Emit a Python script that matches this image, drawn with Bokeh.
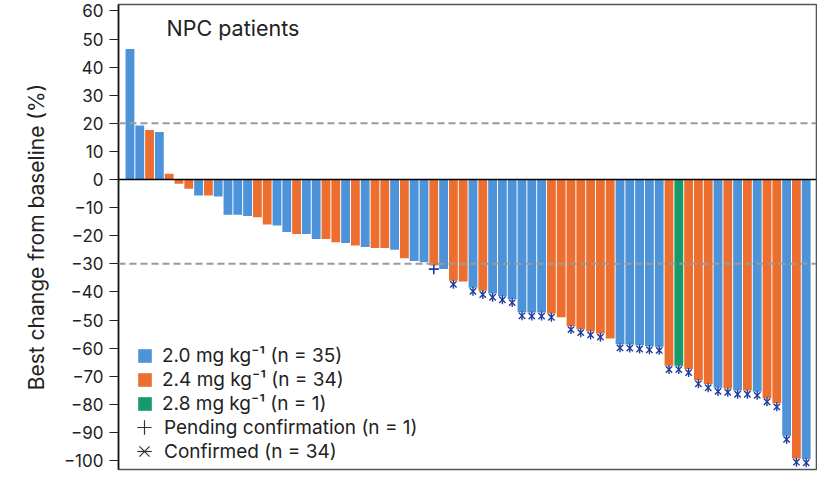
from bokeh.plotting import figure
from bokeh.models import ColumnDataSource, Range1d, Span, Label, Legend, LegendItem, FixedTicker
from bokeh.embed import file_html
from bokeh.resources import INLINE

# ---------------- data ----------------
dose = ["B", "B", "O", "B", "O", "O", "O", "B", "O", "B",
        "B", "B", "B", "O", "O", "B", "B", "O", "B", "B",
        "O", "O", "B", "O", "B", "O", "O", "B", "O", "B",
        "B", "O", "B", "O", "O", "B", "O", "B", "B", "B",
        "B", "B", "B", "O", "O", "O", "O", "O", "O", "O",
        "B", "B", "B", "B", "B", "O", "G", "O", "O", "O",
        "B", "O", "B", "O", "B", "O", "O", "B", "O", "B"]
change = [46.5, 19.2, 17.6, 16.9, 2.1, -1.5, -3.3, -5.7, -5.7, -6.0,
          -12.5, -12.5, -13.0, -13.4, -16.0, -16.4, -18.7, -19.4, -19.4, -21.2,
          -21.2, -22.3, -22.6, -23.5, -24.0, -24.4, -24.4, -25.0, -28.0, -29.0,
          -29.4, -30.6, -31.8, -36.0, -36.3, -38.5, -39.6, -40.6, -41.5, -42.5,
          -47.2, -47.3, -47.3, -47.7, -49.0, -52.1, -53.2, -54.0, -54.8, -56.6,
          -58.6, -58.7, -59.0, -59.3, -59.5, -66.3, -66.3, -67.4, -71.4, -72.8,
          -74.1, -74.4, -75.1, -75.1, -75.5, -77.8, -79.6, -91.2, -99.3, -99.5]
# response status: "C" confirmed, "P" pending confirmation, "" none
status = ["", "", "", "", "", "", "", "", "", "",
          "", "", "", "", "", "", "", "", "", "",
          "", "", "", "", "", "", "", "", "", "",
          "", "P", "", "C", "", "C", "C", "C", "C", "C",
          "C", "C", "C", "C", "", "C", "C", "C", "C", "",
          "C", "C", "C", "C", "C", "C", "C", "C", "C", "C",
          "C", "C", "C", "C", "C", "C", "C", "C", "C", "C"]
dose_labels = {"B": "2.0 mg kg\u207b\u00b9 (n = 35)",
               "O": "2.4 mg kg\u207b\u00b9 (n = 34)",
               "G": "2.8 mg kg\u207b\u00b9 (n = 1)"}
pending_label = "Pending confirmation (n = 1)"
confirmed_label = "Confirmed (n = 34)"
thresholds = [20, -30]
y_ticks = [60, 50, 40, 30, 20, 10, 0, -10, -20, -30, -40, -50, -60, -70, -80, -90, -100]
y_tick_labels = [str(t) if t >= 0 else "\u2212" + str(-t) for t in y_ticks]
title_text = "NPC patients"
y_title = "Best change from baseline (%)"

colors = {"B": "#4d93d9", "O": "#ec6f30", "G": "#16996b"}
marker_color = "#1f3d9c"
FONT = "Inter"
NAN = float("nan")

# ---------------- figure ----------------
n = len(change)
xs = list(range(1, n + 1))

p = figure(width=817, height=471, output_backend="svg", toolbar_location=None,
           x_range=Range1d(-0.17, n + 1.05), y_range=Range1d(-103.2, 62.3),
           min_border_left=118, min_border_right=1, min_border_top=4, min_border_bottom=2)
p.xaxis.visible = False
p.xgrid.visible = False
p.ygrid.visible = False
p.outline_line_color = "#555555"
p.outline_line_width = 1.6
p.background_fill_color = "white"
p.border_fill_color = "white"

bar_items = []
for key in ["B", "O", "G"]:
    idx = [i for i in range(n) if dose[i] == key]
    src = ColumnDataSource(dict(x=[xs[i] for i in idx], top=[change[i] for i in idx]))
    r = p.vbar(x="x", top="top", bottom=0, width=0.9, source=src,
               fill_color=colors[key], line_color=None)
    bar_items.append(LegendItem(label=dose_labels[key], renderers=[r]))

for t in thresholds:
    p.add_layout(Span(location=t, dimension="width", line_color="#9a9a9a",
                      line_width=2, line_dash="7 4"))
p.add_layout(Span(location=0, dimension="width", line_color="black", line_width=1.5))

off = 1.3
ci = [i for i in range(n) if status[i] == "C"]
pi = [i for i in range(n) if status[i] == "P"]
csrc = ColumnDataSource(dict(x=[xs[i] for i in ci], y=[change[i] - off for i in ci]))
psrc = ColumnDataSource(dict(x=[xs[i] for i in pi], y=[change[i] - off for i in pi]))
p.scatter("x", "y", source=csrc, marker="x", size=9, line_color=marker_color, line_width=1.4)
p.scatter("x", "y", source=csrc, marker="dash", size=9, angle=1.5708,
          line_color=marker_color, line_width=1.4)
p.scatter("x", "y", source=psrc, marker="cross", size=10, line_color=marker_color, line_width=1.6)

# legend-only glyphs (black symbols, no visible data)
dummy = ColumnDataSource(dict(x=[NAN], y=[NAN]))
rp = p.scatter("x", "y", source=dummy, marker="cross", line_color="#333333", line_width=1.2)
rc1 = p.scatter("x", "y", source=dummy, marker="x", line_color="#333333", line_width=1.2)
rc2 = p.scatter("x", "y", source=dummy, marker="dash", line_color="#333333", line_width=1.2)

common = dict(orientation="vertical", padding=0, margin=0, border_line_color=None,
              background_fill_alpha=0, label_text_font=FONT, label_text_font_size="19px",
              label_text_color="#222222")
legend1 = Legend(items=bar_items, location=(18, 54), glyph_width=17, glyph_height=17,
                 label_height=24, spacing=0, label_standoff=9, **common)
legend2 = Legend(items=[LegendItem(label=pending_label, renderers=[rp])], location=(8, 24),
                 glyph_width=36, glyph_height=36, label_standoff=2, **common)
legend3 = Legend(items=[LegendItem(label=confirmed_label, renderers=[rc1, rc2])], location=(8, 0),
                 glyph_width=36, glyph_height=36, label_standoff=2, **common)
p.add_layout(legend1)
p.add_layout(legend2)
p.add_layout(legend3)

p.add_layout(Label(x=4.73, y=53.8, text=title_text, text_font=FONT, text_font_size="21.5px",
                   text_color="#222222", text_baseline="alphabetic"))

ax = p.yaxis[0]
ax.ticker = FixedTicker(ticks=y_ticks)
ax.major_label_overrides = {t: l for t, l in zip(y_ticks, y_tick_labels)}
ax.minor_tick_line_color = None
ax.major_tick_out = 9
ax.major_tick_in = 0
ax.major_tick_line_width = 1.2
ax.major_tick_line_color = "#222222"
ax.axis_line_color = "#111111"
ax.axis_line_width = 1.5
ax.major_label_standoff = 6
ax.major_label_text_font = FONT
ax.major_label_text_font_size = "17px"
ax.major_label_text_color = "#222222"
ax.axis_label = y_title
ax.axis_label_text_font = FONT
ax.axis_label_text_font_size = "21px"
ax.axis_label_text_font_style = "normal"
ax.axis_label_text_color = "#222222"
ax.axis_label_standoff = 12

open("out.html", "w").write(file_html(p, INLINE))
